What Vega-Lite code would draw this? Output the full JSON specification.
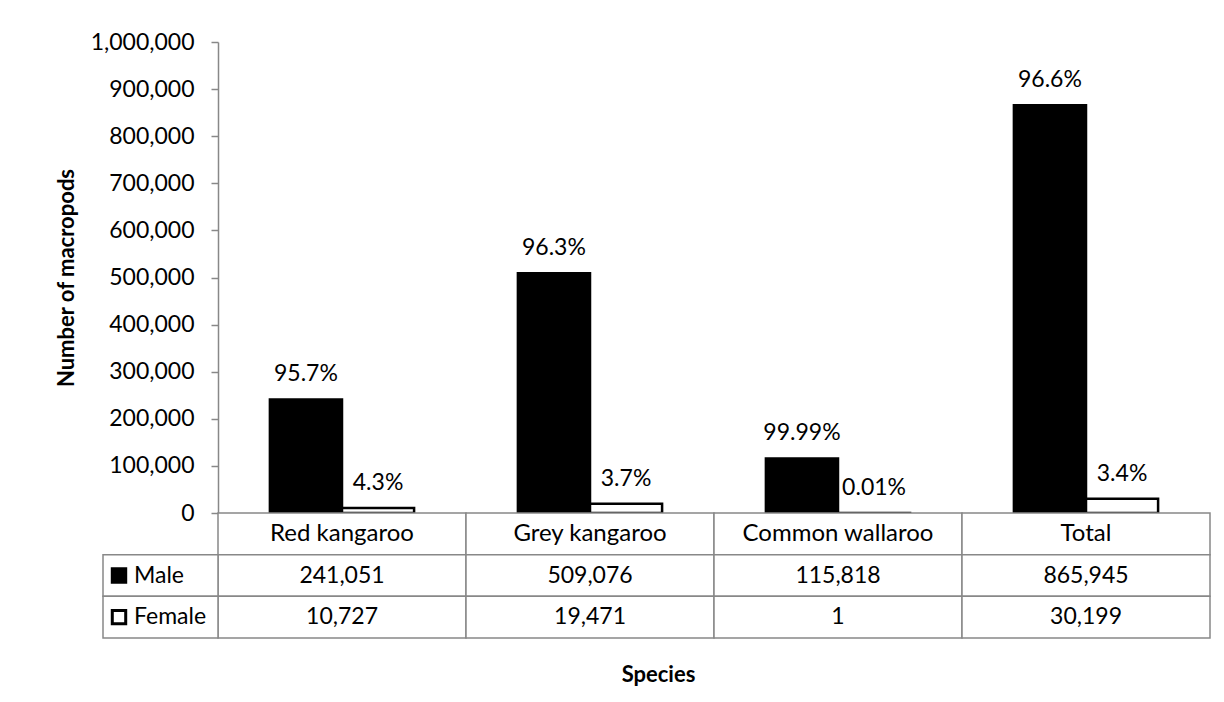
{
  "$schema": "https://vega.github.io/schema/vega-lite/v6.json",
  "padding": {"left": 55, "top": 31, "right": 10, "bottom": 5},
  "background": "white",
  "bounds": "flush",
  "datasets": {
    "main": [
      {"species": "Red kangaroo", "sex": "Male", "count": 241051, "share": "95.7%"},
      {"species": "Red kangaroo", "sex": "Female", "count": 10727, "share": "4.3%"},
      {"species": "Grey kangaroo", "sex": "Male", "count": 509076, "share": "96.3%"},
      {"species": "Grey kangaroo", "sex": "Female", "count": 19471, "share": "3.7%"},
      {"species": "Common wallaroo", "sex": "Male", "count": 115818, "share": "99.99%"},
      {"species": "Common wallaroo", "sex": "Female", "count": 1, "share": "0.01%"},
      {"species": "Total", "sex": "Male", "count": 865945, "share": "96.6%"},
      {"species": "Total", "sex": "Female", "count": 30199, "share": "3.4%"}
    ]
  },
  "config": {
    "font": "Lato",
    "view": {"stroke": null},
    "concat": {"spacing": 0},
    "text": {"color": "black"}
  },
  "vconcat": [
    {
      "width": 992,
      "height": 471,
      "data": {"name": "main"},
      "encoding": {
        "x": {
          "field": "species", "type": "nominal",
          "sort": ["Red kangaroo", "Grey kangaroo", "Common wallaroo", "Total"],
          "scale": {"paddingInner": 0, "paddingOuter": 0},
          "axis": null
        },
        "xOffset": {
          "field": "sex", "type": "nominal", "sort": ["Male", "Female"],
          "scale": {"paddingInner": 0, "paddingOuter": 0.72}
        },
        "y": {
          "field": "count", "type": "quantitative",
          "scale": {"domain": [0, 1000000]},
          "axis": {
            "title": "Number of macropods",
            "values": [0, 100000, 200000, 300000, 400000, 500000, 600000, 700000, 800000, 900000, 1000000],
            "format": ",.0f",
            "grid": false,
            "domainColor": "#888888",
            "domainWidth": 1.5,
            "tickColor": "#888888",
            "tickWidth": 1.5,
            "tickSize": 7,
            "labelPadding": 17,
            "labelFontSize": 23,
            "labelColor": "black",
            "titleFontSize": 22,
            "titleFontWeight": "bold",
            "titleColor": "black",
            "titlePadding": 12
          }
        }
      },
      "layer": [
        {
          "mark": {"type": "bar", "stroke": "black", "strokeWidth": 2.5},
          "encoding": {
            "fill": {
              "field": "sex", "type": "nominal",
              "scale": {"domain": ["Male", "Female"], "range": ["black", "white"]},
              "legend": null
            }
          }
        },
        {
          "mark": {"type": "text", "dy": -18, "baseline": "alphabetic", "fontSize": 23},
          "encoding": {"text": {"field": "share"}}
        }
      ]
    },
    {
      "width": 992,
      "height": 125,
      "data": {"name": "main"},
      "layer": [
        {
          "layer": [
            {
              "transform": [{"filter": "datum.sex === 'Male'"}],
              "mark": {"type": "rect", "fill": "white", "stroke": "#888888", "strokeWidth": 1.5},
              "encoding": {
                "x": {
                  "field": "species", "type": "nominal",
                  "sort": ["Red kangaroo", "Grey kangaroo", "Common wallaroo", "Total"],
                  "scale": {"paddingInner": 0, "paddingOuter": 0},
                  "axis": {
                    "title": "Species",
                    "labels": false, "ticks": false, "domain": false,
                    "titleFontSize": 22, "titleFontWeight": "bold", "titleColor": "black",
                    "titlePadding": 26,
                    "titleX": 440
                  }
                },
                "y": {
                  "datum": "header", "type": "nominal",
                  "scale": {"domain": ["header", "Male", "Female"], "paddingInner": 0, "paddingOuter": 0},
                  "axis": null
                }
              }
            },
            {
              "mark": {"type": "rect", "fill": "white", "stroke": "#888888", "strokeWidth": 1.5},
              "encoding": {
                "x": {"field": "species", "type": "nominal", "sort": ["Red kangaroo", "Grey kangaroo", "Common wallaroo", "Total"]},
                "y": {"field": "sex", "type": "nominal", "axis": null}
              }
            },
            {
              "transform": [{"filter": "datum.sex === 'Male'"}],
              "mark": {"type": "text", "fontSize": 24, "baseline": "middle"},
              "encoding": {
                "x": {"field": "species", "type": "nominal", "sort": ["Red kangaroo", "Grey kangaroo", "Common wallaroo", "Total"]},
                "y": {"datum": "header", "type": "nominal"},
                "text": {"field": "species"}
              }
            },
            {
              "mark": {"type": "text", "fontSize": 23, "baseline": "middle"},
              "encoding": {
                "x": {"field": "species", "type": "nominal", "sort": ["Red kangaroo", "Grey kangaroo", "Common wallaroo", "Total"]},
                "y": {"field": "sex", "type": "nominal"},
                "text": {"field": "count", "type": "quantitative", "format": ","}
              }
            }
          ]
        },
        {
          "transform": [{"filter": "datum.species === 'Total'"}],
          "encoding": {
            "x": {
              "datum": "legend", "type": "nominal",
              "scale": {"range": [-115, 0], "paddingInner": 0, "paddingOuter": 0},
              "axis": null
            },
            "y": {"field": "sex", "type": "nominal"}
          },
          "layer": [
            {"mark": {"type": "rect", "fill": "white", "stroke": "#888888", "strokeWidth": 1.5}},
            {
              "mark": {"type": "point", "shape": "square", "filled": true, "stroke": "black", "strokeWidth": 3, "size": 180, "opacity": 1, "xOffset": -41.5},
              "encoding": {
                "fill": {
                  "field": "sex", "type": "nominal",
                  "scale": {"domain": ["Male", "Female"], "range": ["black", "white"]},
                  "legend": null
                }
              }
            },
            {
              "mark": {"type": "text", "fontSize": 23, "baseline": "middle", "align": "left", "dx": -26.5},
              "encoding": {"text": {"field": "sex"}}
            }
          ]
        }
      ],
      "resolve": {"scale": {"x": "independent"}}
    }
  ]
}
